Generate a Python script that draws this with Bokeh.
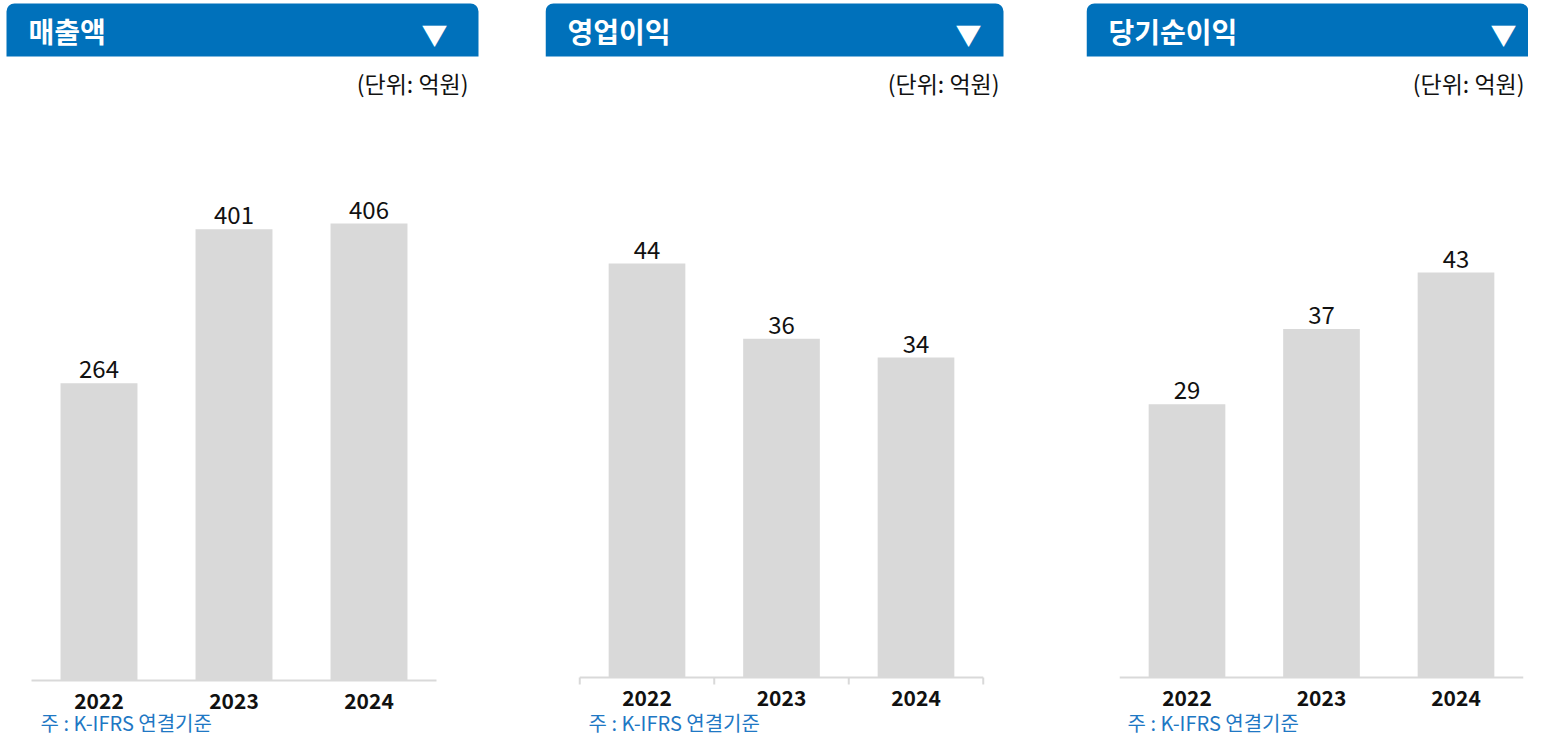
from bokeh.plotting import figure
from bokeh.layouts import row
from bokeh.models import Range1d, BoxAnnotation, Label, ColumnDataSource
from bokeh.core.properties import value
from bokeh.embed import file_html
from bokeh.resources import INLINE

# ---- data ----
years = ["2022", "2023", "2024"]
titles = ["매출액", "영업이익", "당기순이익"]
revenue = [264, 401, 406]
operating_income = [44, 36, 34]
net_income = [29, 37, 43]
unit_text = "(단위: 억원)"
note_text = "주 : K-IFRS 연결기준"

# ---- style ----
FONT = "Noto Sans CJK KR"
HEADER_BLUE = "#0071BB"
BAR_GREY = "#D9D9D9"
NOTE_BLUE = "#1F78C4"
TEXT_DARK = "#111111"
FIG_H = 737
HEADER_TOP, HEADER_BOTTOM = 3, 56


def make_panel(title, vals, fig_x0, fig_w, c0, cw, base, ppu,
               hx0, hx1, title_x, tri_x, unit_right, note_x, ticks):
    n = len(years)

    def dx(px):
        return (px - c0) / cw

    def dy(py):
        return (base - py) / ppu

    p = figure(width=fig_w, height=FIG_H,
               output_backend="svg", toolbar_location=None,
               x_range=Range1d(dx(fig_x0), dx(fig_x0 + fig_w)),
               y_range=Range1d(dy(FIG_H), dy(0)),
               x_axis_location=None, y_axis_location=None,
               min_border=0, outline_line_color=None)
    p.grid.visible = False
    p.background_fill_color = "white"
    p.border_fill_color = "white"

    idx = list(range(n))
    src = ColumnDataSource(dict(x=idx, top=vals, lbl=[str(v) for v in vals],
                                year=years, ylab=[dy(base + 20)] * n))

    # header bar
    p.add_layout(BoxAnnotation(left=dx(hx0), right=dx(hx1),
                               top=dy(HEADER_TOP), bottom=dy(HEADER_BOTTOM),
                               fill_color=HEADER_BLUE, fill_alpha=1.0, line_alpha=0.0,
                               border_radius=(8, 8, 0, 0)))
    p.add_layout(Label(x=dx(title_x), y=dy(30), text=title, text_font=FONT,
                       text_font_size="28px", text_font_style="bold",
                       text_color="white", text_align="left", text_baseline="middle"))
    p.add_layout(Label(x=dx(tri_x), y=dy(33), text="▼", text_font=FONT,
                       text_font_size="26px", text_color="white",
                       text_align="center", text_baseline="middle"))
    p.add_layout(Label(x=dx(unit_right), y=dy(82), text=unit_text, text_font=FONT,
                       text_font_size="23px", text_color=TEXT_DARK,
                       text_align="right", text_baseline="middle"))

    # bars
    p.vbar(x="x", top="top", bottom=0, width=0.57, source=src,
           fill_color=BAR_GREY, line_color=None)
    # baseline
    p.segment(x0=[-0.5], x1=[n - 0.5], y0=[0], y1=[0],
              line_color=BAR_GREY, line_width=2)
    if ticks:
        bounds = [i - 0.5 for i in range(n + 1)]
        p.segment(x0=bounds, x1=bounds, y0=[0] * len(bounds),
                  y1=[dy(base + 7)] * len(bounds),
                  line_color=BAR_GREY, line_width=2)

    # value labels
    p.text(x="x", y="top", text="lbl", source=src, y_offset=-14,
           text_font=value(FONT), text_font_size="24px", text_color=TEXT_DARK,
           text_align="center", text_baseline="middle")
    # category labels
    p.text(x="x", y="ylab", text="year", source=src,
           text_font=value(FONT), text_font_size="21px", text_font_style="bold",
           text_color=TEXT_DARK, text_align="center", text_baseline="middle")

    # footnote
    p.add_layout(Label(x=dx(note_x), y=dy(722), text=note_text, text_font=FONT,
                       text_font_size="20px", text_color=NOTE_BLUE,
                       text_align="left", text_baseline="middle"))
    return p


p1 = make_panel(titles[0], revenue, 0, 545, 98.5, 135.0, 680, (680 - 223) / 406,
                6, 478, 28, 434, 468, 40, False)
p2 = make_panel(titles[1], operating_income, 545, 541, 646.5, 134.5, 677, (677 - 263) / 44,
                545, 1003, 567, 968, 999, 588, True)
p3 = make_panel(titles[2], net_income, 1086, 442, 1186.5, 134.5, 677, (677 - 272) / 43,
                1086, 1528, 1108, 1503, 1524, 1127, False)

layout = row(p1, p2, p3)
open("out.html", "w").write(file_html(layout, INLINE))
